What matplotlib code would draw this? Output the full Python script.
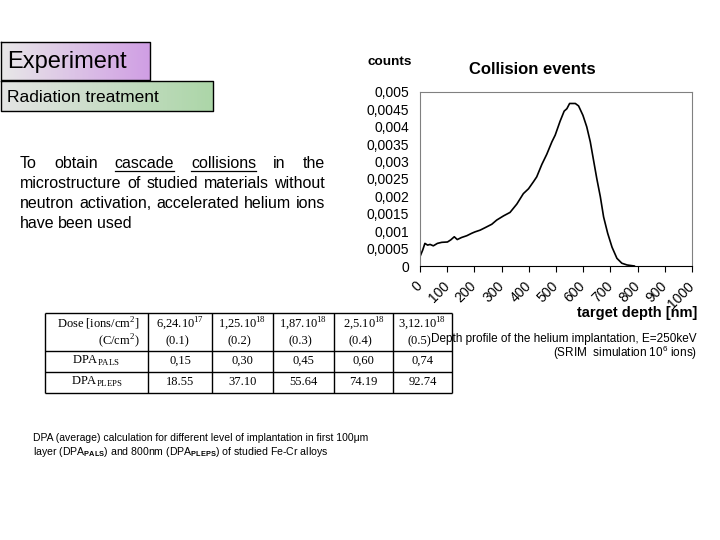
import numpy as np
import matplotlib
matplotlib.use('Agg')
import matplotlib.pyplot as plt

# depth profile of the He implantation (SRIM)
depth = [0, 10, 18, 28, 37, 49, 64, 80, 101, 113, 126, 137, 153, 172, 190, 202,
         221, 239, 264, 282, 307, 331, 356, 380, 399, 417, 429, 448, 466, 485,
         497, 515, 530, 540, 550, 571, 583, 599, 613, 626, 638, 650, 663, 675,
         690, 706, 724, 742, 761, 788]
counts = [0.00027, 0.00046, 0.00065, 0.00060, 0.00062, 0.00058, 0.00065, 0.00068,
          0.00069, 0.00075, 0.00084, 0.00076, 0.00082, 0.00087, 0.00094, 0.00098,
          0.00103, 0.00110, 0.00120, 0.00132, 0.00144, 0.00154, 0.00178, 0.00208,
          0.00222, 0.00242, 0.00256, 0.00292, 0.00321, 0.00357, 0.00376, 0.00416,
          0.00445, 0.00452, 0.00467, 0.00467, 0.00460, 0.00433, 0.00400, 0.00357,
          0.00304, 0.00251, 0.00199, 0.00141, 0.00094, 0.00054, 0.00022, 0.00008,
          0.00003, 0.0]
x_ticks = [0, 100, 200, 300, 400, 500, 600, 700, 800, 900, 1000]
y_ticks = [0, 0.0005, 0.001, 0.0015, 0.002, 0.0025, 0.003, 0.0035, 0.004, 0.0045, 0.005]

# table
dose_ions = ['6,24.10$^{17}$', '1,25.10$^{18}$', '1,87.10$^{18}$', '2,5.10$^{18}$', '3,12.10$^{18}$']
dose_c = ['(0.1)', '(0.2)', '(0.3)', '(0.4)', '(0.5)']
dpa_pals = ['0,15', '0,30', '0,45', '0,60', '0,74']
dpa_pleps = ['18.55', '37.10', '55.64', '74.19', '92.74']

para_lines = ['To obtain cascade collisions in the',
              'microstructure of studied materials without',
              'neutron activation, accelerated helium ions',
              'have been used']
underlined = ['cascade', 'collisions']

plt.rcParams['font.family'] = ['Liberation Sans', 'DejaVu Sans']
plt.rcParams['mathtext.fontset'] = 'custom'
plt.rcParams['mathtext.rm'] = 'Liberation Serif'
plt.rcParams['mathtext.sf'] = 'Liberation Sans'
plt.rcParams['mathtext.bf'] = 'Liberation Sans:bold'

fig = plt.figure(figsize=(7.2, 5.4), dpi=100)
bg = fig.add_axes([0, 0, 1, 1])
bg.set_xlim(0, 720)
bg.set_ylim(540, 0)
bg.axis('off')

# heading boxes with gradient
def grad_box(x0, x1, y0, y1, c0, c1):
    n = 200
    t = np.linspace(0, 1, n)[None, :, None]
    img = (1 - t) * np.array(c0)[None, None, :] + t * np.array(c1)[None, None, :]
    bg.imshow(img / 255., extent=[x0, x1, y1, y0], aspect='auto', zorder=1)
    bg.plot([x0, x1, x1, x0, x0], [y0, y0, y1, y1, y0], color='black', lw=1.0, zorder=2)

grad_box(1, 150, 42, 80, (232, 232, 232), (208, 158, 228))
grad_box(1, 213, 81, 111, (228, 228, 228), (172, 214, 168))
bg.set_xlim(0, 720)
bg.set_ylim(540, 0)
bg.text(7, 62, 'Experiment', fontsize=17, va='center', zorder=3)
bg.text(7, 97, 'Radiation treatment', fontsize=12.5, va='center', zorder=3)

# justified paragraph
fig.canvas.draw()
r = fig.canvas.get_renderer()
for i, line in enumerate(para_lines):
    y = 163 + 20 * i
    words = line.split()
    texts = [bg.text(0, y, w, fontsize=11.5, va='center') for w in words]
    widths = [t.get_window_extent(r).width for t in texts]
    if i < len(para_lines) - 1:
        gap = (325 - 20 - sum(widths)) / (len(words) - 1)
    else:
        gap = 3.5
    x = 20
    for t, w, wd in zip(texts, words, widths):
        t.set_x(x)
        if w in underlined:
            bg.plot([x, x + wd], [y + 8, y + 8], color='black', lw=0.9)
        x += wd + gap

# table
col_x = [45, 148, 212, 273, 334, 393, 452]
row_y = [313, 351, 372, 393]
bg.hlines(row_y, col_x[0], col_x[-1], color='black', lw=1.0)
bg.vlines(col_x, row_y[0], row_y[-1], color='black', lw=1.0)
serif = dict(family='Liberation Serif', fontsize=9)
bg.text(140, 324, 'Dose [ions/cm$^{2}$]', ha='right', va='center', **serif)
bg.text(140, 341, '(C/cm$^{2}$)', ha='right', va='center', **serif)
bg.text((col_x[0] + col_x[1]) / 2, 361, 'DPA$_{\\mathrm{PALS}}$', ha='center', va='center', **serif)
bg.text((col_x[0] + col_x[1]) / 2, 382, 'DPA$_{\\mathrm{PLEPS}}$', ha='center', va='center', **serif)
for j in range(5):
    cx = (col_x[j + 1] + col_x[j + 2]) / 2
    bg.text(cx, 324, dose_ions[j], ha='center', va='center', **serif)
    bg.text(cx - 3, 341, dose_c[j], ha='center', va='center', **serif)
    bg.text(cx, 361, dpa_pals[j], ha='center', va='center', **serif)
    bg.text(cx, 382, dpa_pleps[j], ha='center', va='center', **serif)

# captions
bg.text(33, 438, 'DPA (average) calculation for different level of implantation in first 100\u03bcm',
        fontsize=7.5, va='center')
bg.text(33, 452, 'layer (DPA$_{\\mathbf{PALS}}$) and 800nm (DPA$_{\\mathbf{PLEPS}}$) of studied Fe-Cr alloys',
        fontsize=7.6, va='center')
bg.text(697, 339, 'Depth profile of the helium implantation, E=250keV', fontsize=8.5, ha='right', va='center')
bg.text(697, 353, '(SRIM  simulation 10$^{\\mathsf{6}}$ ions)', fontsize=8.5, ha='right', va='center')

# chart texts
bg.text(368, 62, 'counts', fontsize=9.7, fontweight='bold', va='center')
bg.text(532, 70, 'Collision events', fontsize=12, fontweight='bold', ha='center', va='center')
bg.text(697, 313, 'target depth [nm]', fontsize=10.5, fontweight='bold', ha='right', va='center')

# collision events plot
ax = fig.add_axes([420 / 720, 1 - 266 / 540, 272 / 720, 174 / 540])
ax.set_facecolor('none')
ax.plot(depth, counts, color='black', lw=1.2)
ax.set_xlim(0, 1000)
ax.set_ylim(0, 0.005)
ax.set_xticks(x_ticks)
ax.set_xticklabels([str(v) for v in x_ticks], rotation=45, ha='right', va='center',
                   rotation_mode='anchor', fontsize=10)
ax.set_yticks(y_ticks)
ax.set_yticklabels([('%g' % v).replace('.', ',') for v in y_ticks], fontsize=10)
ax.tick_params(axis='x', direction='out', length=4, width=0.8, pad=9)
ax.tick_params(axis='y', length=0, pad=8)
for s in ax.spines.values():
    s.set_color('#808080')
    s.set_linewidth(0.8)
ax.spines['bottom'].set_color('black')

fig.savefig('out.png', dpi=100)
